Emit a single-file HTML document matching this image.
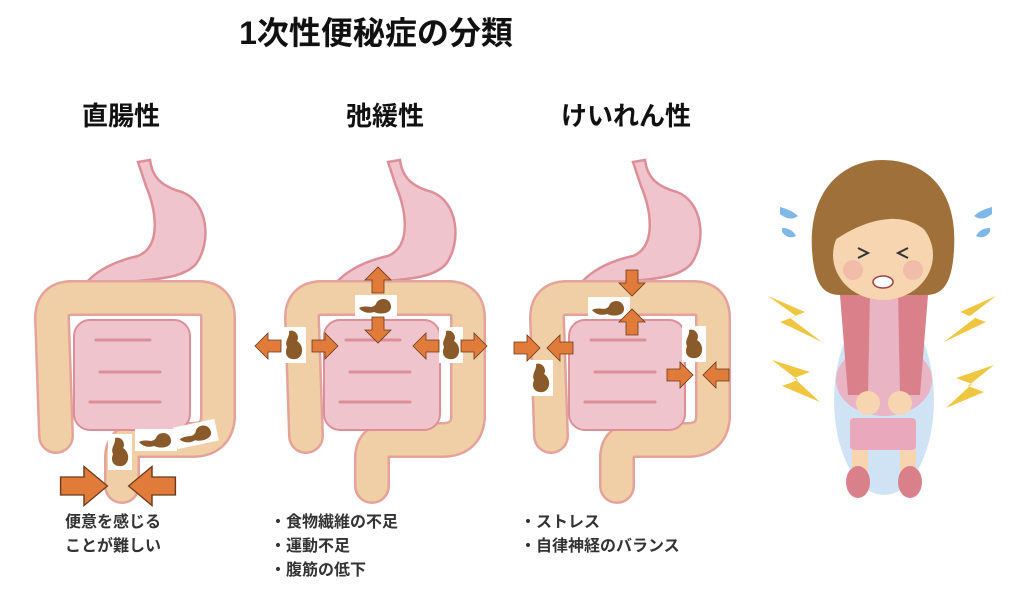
<!DOCTYPE html>
<html><head><meta charset="utf-8"><style>
html,body{margin:0;padding:0;background:#fff;width:1024px;height:592px;overflow:hidden}
svg{display:block}
text{font-family:"Liberation Sans","Noto Sans CJK JP",sans-serif;font-weight:bold}
</style></head><body>
<svg width="1024" height="592" viewBox="0 0 1024 592">
<defs>
<g id="intest">
  <path d="M138,162 L150,160 C152,176 160,186 182,192 C208,202 212,242 196,264 C176,286 122,276 98,290 L80,294 C86,276 110,262 138,256 C162,246 156,210 146,186 Z" fill="#f0c4cc" stroke="#dc8f98" stroke-width="2.5"/>
  <path d="M56,436 L52,318 Q52,298 72,298 L198,298 Q218,298 218,318 L218,418 Q216,440 192,440 L140,440 Q122,440 122,458 L122,486" fill="none" stroke="#e3a39a" stroke-width="36" stroke-linejoin="round" stroke-linecap="round"/>
  <path d="M56,436 L52,318 Q52,298 72,298 L198,298 Q218,298 218,318 L218,418 Q216,440 192,440 L140,440 Q122,440 122,458 L122,486" fill="none" stroke="#f1cfa6" stroke-width="31" stroke-linejoin="round" stroke-linecap="round"/>
  <rect x="74" y="320" width="116" height="110" rx="16" fill="#f0c4cc" stroke="#dc8f98" stroke-width="2"/>
  <path d="M96,340 L150,340 M100,372 L160,372 M90,402 L160,402" stroke="#dc8f98" stroke-width="3" stroke-linecap="round"/>
</g>
<polygon id="arr" points="-13,-6 0,-6 0,-13 13,0 0,13 0,6 -13,6" fill="#e07b39" stroke="#6b3a1a" stroke-width="0.8"/>
<g id="poop"><rect x="-12" y="-18" width="24" height="36" fill="#fff"/><path d="M-5,-14 C2,-16 6,-8 3,-4 C10,0 10,12 2,14 C-6,15 -10,10 -7,2 C-10,-4 -4,-8 -5,-14Z" fill="#8b5a2b"/></g>
<g id="poop2"><rect x="-21" y="-11" width="42" height="22" fill="#fff"/><path d="M-17,2 C-10,-2 -4,4 0,-2 C2,-9 14,-9 15,0 C16,8 4,9 -2,6 C-8,8 -14,6 -17,2Z" fill="#8b5a2b"/></g>
</defs>

<text x="376" y="44" font-size="32" text-anchor="middle" fill="#111">1次性便秘症の分類</text>
<text x="121" y="125" font-size="26" text-anchor="middle" fill="#111">直腸性</text>
<text x="385" y="125" font-size="26" text-anchor="middle" fill="#111">弛緩性</text>
<text x="626" y="125" font-size="26" text-anchor="middle" fill="#111">けいれん性</text>

<use href="#intest"/>
<use href="#intest" transform="translate(250,0)"/>
<use href="#intest" transform="translate(495,0)"/>

<use href="#poop" transform="translate(120,452)"/>
<use href="#poop2" transform="translate(156,440)"/>
<use href="#poop2" transform="translate(196,434) rotate(-12)"/>
<use href="#poop" transform="translate(294,345)"/>
<use href="#poop2" transform="translate(376,306)"/>
<use href="#poop" transform="translate(451,345)"/>
<use href="#poop2" transform="translate(609,308)"/>
<use href="#poop" transform="translate(541,378)"/>
<use href="#poop" transform="translate(694,344)"/>

<use href="#arr" transform="translate(84,486) scale(1.8,1.5)"/>
<use href="#arr" transform="translate(152,486) rotate(180) scale(1.8,1.5)"/>
<use href="#arr" transform="translate(268,346) rotate(180)"/>
<use href="#arr" transform="translate(325,346)"/>
<use href="#arr" transform="translate(378,280) rotate(-90)"/>
<use href="#arr" transform="translate(378,330) rotate(90)"/>
<use href="#arr" transform="translate(426,346) rotate(180)"/>
<use href="#arr" transform="translate(474,346)"/>
<use href="#arr" transform="translate(632,283) rotate(90)"/>
<use href="#arr" transform="translate(632,322) rotate(-90)"/>
<use href="#arr" transform="translate(527,348)"/>
<use href="#arr" transform="translate(560,348) rotate(180)"/>
<use href="#arr" transform="translate(680,375)"/>
<use href="#arr" transform="translate(716,375) rotate(180)"/>

<g font-size="16" fill="#333">
<text x="65" y="527">便意を感じる</text>
<text x="65" y="551">ことが難しい</text>
<text x="270" y="527">・食物繊維の不足</text>
<text x="270" y="551">・運動不足</text>
<text x="270" y="575">・腹筋の低下</text>
<text x="520" y="527">・ストレス</text>
<text x="520" y="551">・自律神経のバランス</text>
</g>

<g>
  <ellipse cx="884" cy="400" rx="50" ry="95" fill="#cfe3f5"/>
  <ellipse cx="884" cy="380" rx="48" ry="36" fill="#e9b4c4"/>
  <rect x="852" y="450" width="16" height="28" fill="#f7d5b0"/>
  <rect x="900" y="450" width="16" height="28" fill="#f7d5b0"/>
  <ellipse cx="858" cy="482" rx="12" ry="16" fill="#d9808a"/>
  <ellipse cx="910" cy="482" rx="12" ry="16" fill="#d9808a"/>
  <path d="M868,295 L900,295 L906,380 L862,380 Z" fill="#e9b4c4"/>
  <path d="M840,295 L870,292 L868,395 L848,395 Z" fill="#d9808a"/>
  <path d="M898,292 L928,295 L920,395 L900,395 Z" fill="#d9808a"/>
  <rect x="850" y="418" width="66" height="32" rx="4" fill="#e9a8bc"/>
  <circle cx="868" cy="403" r="12" fill="#f7d5b0"/>
  <circle cx="900" cy="403" r="12" fill="#f7d5b0"/>
  <path d="M812,250 C808,185 848,160 882,160 C922,160 958,185 954,250 C952,282 944,295 926,295 L840,295 C822,295 814,282 812,250Z" fill="#a0703a"/>
  <ellipse cx="883" cy="255" rx="50" ry="45" fill="#f7d5b0"/>
  <path d="M832,242 C840,195 880,188 905,198 C922,208 936,222 936,244 C920,214 880,208 832,242Z" fill="#a0703a"/>
  <circle cx="853" cy="270" r="10" fill="#f0b0a8" opacity="0.7"/>
  <circle cx="913" cy="270" r="10" fill="#f0b0a8" opacity="0.7"/>
  <path d="M858,248 L868,253 L858,258 M908,248 L898,253 L908,258" stroke="#333" stroke-width="2" fill="none"/>
  <ellipse cx="883" cy="282" rx="10" ry="6" fill="#fff" stroke="#a04040" stroke-width="1.5"/>
  <path d="M780,207 Q792,210 798,216 Q790,222 780,214 Z M782,228 Q792,228 796,236 Q788,240 782,232Z" fill="#7fb8e8"/>
  <path d="M992,207 Q980,210 974,216 Q982,222 992,214 Z M990,228 Q980,228 976,236 Q984,240 990,232Z" fill="#7fb8e8"/>
  <g fill="#f0c640">
    <polygon points="768,296 805,312 790,318 822,342 780,322 796,316"/>
    <polygon points="772,360 810,372 794,378 820,402 782,386 798,380"/>
    <polygon points="996,296 960,312 975,318 944,342 986,322 970,316"/>
    <polygon points="994,365 956,378 972,384 946,408 984,392 968,386"/>
  </g>
</g>
</svg>
</body></html>
